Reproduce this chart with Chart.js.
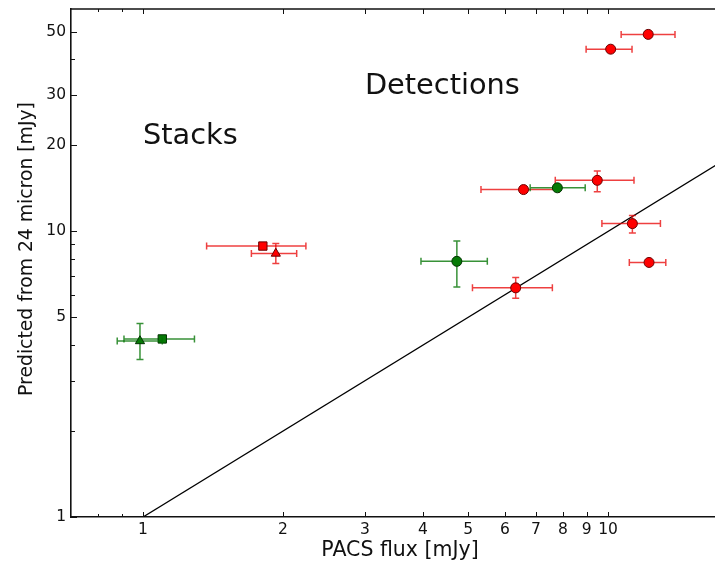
<!DOCTYPE html>
<html>
<head>
<meta charset="utf-8">
<script src="https://cdn.jsdelivr.net/npm/chart.js@4.4.0/dist/chart.umd.min.js"></script>
<style>
  html, body { margin: 0; padding: 0; overflow: hidden; background: #ffffff; }
  canvas { display: block; }
</style>
</head>
<body>
<canvas id="chart" width="737" height="562"></canvas>
<script>
// ---- Detections: red sources (PACS flux vs. flux predicted from 24 micron, mJy)
const redDetFlux    = [12.2, 10.13, 9.48, 6.58, 11.28, 12.25, 6.33];
const redDetFluxLo  = [10.67, 8.97, 7.70, 5.33, 9.70, 11.11, 5.11];
const redDetFluxHi  = [13.93, 11.26, 11.37, 7.85, 12.96, 13.31, 7.59];
const redDetPred    = [48.9, 43.4, 15.08, 14.0, 10.64, 7.78, 6.34];
const redDetPredLo  = [null, null, 13.76, null, 9.86, null, 5.83];
const redDetPredHi  = [null, null, 16.25, null, 11.37, null, 6.89];

// ---- Detections: green sources
const greenDetFlux   = [7.78, 4.73];
const greenDetFluxLo = [6.8, 3.96];
const greenDetFluxHi = [8.93, 5.50];
const greenDetPred   = [14.2, 7.85];
const greenDetPredLo = [null, 6.39];
const greenDetPredHi = [null, 9.25];

// ---- Stacks (square and triangle for each colour)
const redSqFlux = [1.81], redSqFluxLo = [1.37], redSqFluxHi = [2.24], redSqPred = [8.88];
const redTriFlux = [1.93], redTriFluxLo = [1.71], redTriFluxHi = [2.14];
const redTriPred = [8.36], redTriPredLo = [7.71], redTriPredHi = [9.06];
const greenSqFlux = [1.10], greenSqFluxLo = [0.91], greenSqFluxHi = [1.29], greenSqPred = [4.20];
const greenTriFlux = [0.985], greenTriFluxLo = [0.88], greenTriFluxHi = [1.10];
const greenTriPred = [4.13], greenTriPredLo = [3.56], greenTriPredHi = [4.76];

// ---- One-to-one reference line
const unityFlux = [1, 20];
const unityPred = [1, 20];

// ---- Axes
const xRange = [0.7, 18.3];
const yRange = [1, 60];
const xTickValues = [0.8, 0.9, 1, 2, 3, 4, 5, 6, 7, 8, 9, 10];
const xTickLabels = ['', '', '1', '2', '3', '4', '5', '6', '7', '8', '9', '10'];
const yTickValues = [1, 2, 3, 4, 5, 6, 7, 8, 9, 10, 20, 30, 40, 50];
const yTickLabels = ['1', '', '', '', '5', '', '', '', '', '10', '20', '30', '', '50'];

// ---- Text
const xTitle = 'PACS flux [mJy]';
const yTitle = 'Predicted from 24 micron [mJy]';
const noteTexts = ['Stacks', 'Detections'];
const noteFlux  = [1.0, 3.0];
const notePred  = [20.2, 30.2];

const FONT = '"DejaVu Sans", "Bitstream Vera Sans", sans-serif';
const RED = '#ff0000', RED_EDGE = '#6a0000', RED_ERR = 'rgba(232,0,0,0.75)';
const GREEN = '#067a06', GREEN_EDGE = '#013201', GREEN_ERR = 'rgba(0,115,0,0.78)';

const zip = (xs, ys) => xs.map((x, i) => ({ x: x, y: ys[i] }));

function scatterSet(label, xs, ys, err, style, order) {
  return Object.assign({
    type: 'scatter',
    label: label,
    data: zip(xs, ys),
    err: err,
    borderWidth: 1,
    order: order
  }, style);
}

const circleRed   = { pointStyle: 'circle',   pointRadius: 5,   backgroundColor: RED,   borderColor: RED_EDGE };
const circleGreen = { pointStyle: 'circle',   pointRadius: 5,   backgroundColor: GREEN, borderColor: GREEN_EDGE };
const squareRed   = { pointStyle: 'rect',     pointRadius: 5.9, backgroundColor: RED,   borderColor: RED_EDGE };
const squareGreen = { pointStyle: 'rect',     pointRadius: 5.9, backgroundColor: GREEN, borderColor: GREEN_EDGE };
const triRed      = { pointStyle: 'triangle', pointRadius: 5.3, backgroundColor: RED,   borderColor: RED_EDGE };
const triGreen    = { pointStyle: 'triangle', pointRadius: 5.3, backgroundColor: GREEN, borderColor: GREEN_EDGE };

const datasets = [
  {
    type: 'line', label: 'unity', data: zip(unityFlux, unityPred),
    borderColor: '#000000', borderWidth: 1.3, pointRadius: 0, fill: false, order: 20
  },
  scatterSet('red detections', redDetFlux, redDetPred,
    { color: RED_ERR, xlo: redDetFluxLo, xhi: redDetFluxHi, ylo: redDetPredLo, yhi: redDetPredHi }, circleRed, 9),
  scatterSet('green detections', greenDetFlux, greenDetPred,
    { color: GREEN_ERR, xlo: greenDetFluxLo, xhi: greenDetFluxHi, ylo: greenDetPredLo, yhi: greenDetPredHi }, circleGreen, 8),
  scatterSet('red stack (square)', redSqFlux, redSqPred,
    { color: RED_ERR, xlo: redSqFluxLo, xhi: redSqFluxHi, ylo: [null], yhi: [null] }, squareRed, 7),
  scatterSet('red stack (triangle)', redTriFlux, redTriPred,
    { color: RED_ERR, xlo: redTriFluxLo, xhi: redTriFluxHi, ylo: redTriPredLo, yhi: redTriPredHi }, triRed, 6),
  scatterSet('green stack (square)', greenSqFlux, greenSqPred,
    { color: GREEN_ERR, xlo: greenSqFluxLo, xhi: greenSqFluxHi, ylo: [null], yhi: [null] }, squareGreen, 5),
  scatterSet('green stack (triangle)', greenTriFlux, greenTriPred,
    { color: GREEN_ERR, xlo: greenTriFluxLo, xhi: greenTriFluxHi, ylo: greenTriPredLo, yhi: greenTriPredHi }, triGreen, 4)
];

// Error bars drawn just beneath each dataset's markers, with small caps.
const errorBars = {
  id: 'errorBars',
  beforeDatasetDraw(chart, args) {
    const ds = chart.data.datasets[args.index];
    if (!ds.err) return;
    const xs = chart.scales.x, ys = chart.scales.y, ctx = chart.ctx, a = chart.chartArea;
    const cap = 3.5;
    ctx.save();
    ctx.beginPath();
    ctx.rect(a.left, a.top, a.right - a.left, a.bottom - a.top);
    ctx.clip();
    ctx.strokeStyle = ds.err.color;
    ctx.lineWidth = 1.5;
    ds.data.forEach((p, i) => {
      const px = xs.getPixelForValue(p.x), py = ys.getPixelForValue(p.y);
      const xl = ds.err.xlo[i], xh = ds.err.xhi[i];
      if (xl != null && xh != null) {
        const l = xs.getPixelForValue(xl), r = xs.getPixelForValue(xh);
        ctx.beginPath();
        ctx.moveTo(l, py); ctx.lineTo(r, py);
        ctx.moveTo(l, py - cap); ctx.lineTo(l, py + cap);
        ctx.moveTo(r, py - cap); ctx.lineTo(r, py + cap);
        ctx.stroke();
      }
      const yl = ds.err.ylo[i], yh = ds.err.yhi[i];
      if (yl != null && yh != null) {
        const b = ys.getPixelForValue(yl), t = ys.getPixelForValue(yh);
        ctx.beginPath();
        ctx.moveTo(px, b); ctx.lineTo(px, t);
        ctx.moveTo(px - cap, b); ctx.lineTo(px + cap, b);
        ctx.moveTo(px - cap, t); ctx.lineTo(px + cap, t);
        ctx.stroke();
      }
    });
    ctx.restore();
  }
};

// Frame top edge, inward tick marks, axis titles and the two notes.
const frame = {
  id: 'frame',
  afterDraw(chart) {
    const ctx = chart.ctx, a = chart.chartArea, xs = chart.scales.x, ys = chart.scales.y;
    ctx.save();
    ctx.strokeStyle = '#111111';
    ctx.lineWidth = 1.6;
    ctx.beginPath();
    ctx.moveTo(a.left - 0.8, a.top); ctx.lineTo(a.right, a.top);
    ctx.stroke();

    ctx.lineWidth = 1;
    ctx.beginPath();
    xTickValues.forEach((v, i) => {
      const px = Math.round(xs.getPixelForValue(v)) + 0.5;
      const len = xTickLabels[i] ? 5 : 3;
      ctx.moveTo(px, a.bottom); ctx.lineTo(px, a.bottom - len);
      ctx.moveTo(px, a.top); ctx.lineTo(px, a.top + len);
    });
    yTickValues.forEach((v, i) => {
      const py = Math.round(ys.getPixelForValue(v)) + 0.5;
      const len = yTickLabels[i] ? 6 : 4;
      ctx.moveTo(a.left, py); ctx.lineTo(a.left + len, py);
    });
    ctx.stroke();

    ctx.fillStyle = '#111111';
    ctx.textAlign = 'left';
    ctx.textBaseline = 'alphabetic';
    ctx.font = '28.8px ' + FONT;
    noteTexts.forEach((t, i) => {
      ctx.fillText(t, xs.getPixelForValue(noteFlux[i]), ys.getPixelForValue(notePred[i]));
    });

    ctx.textAlign = 'center';
    ctx.textBaseline = 'middle';
    ctx.font = '20.5px ' + FONT;
    ctx.fillText(xTitle, 400, 551);
    ctx.translate(27, 249);
    ctx.rotate(-Math.PI / 2);
    ctx.font = '18.8px ' + FONT;
    ctx.fillText(yTitle, 0, 0);
    ctx.restore();
  }
};

new Chart(document.getElementById('chart'), {
  data: { datasets: datasets },
  plugins: [errorBars, frame],
  options: {
    responsive: false,
    animation: false,
    events: [],
    layout: { padding: { top: 9, right: 0, bottom: 0, left: 0 } },
    plugins: { legend: { display: false }, tooltip: { enabled: false }, title: { display: false } },
    scales: {
      x: {
        type: 'logarithmic',
        position: 'bottom',
        min: xRange[0], max: xRange[1],
        afterBuildTicks: (s) => { s.ticks = xTickValues.map(v => ({ value: v })); },
        afterFit: (s) => { s.height = 45; s.paddingLeft = 0; s.paddingRight = 0; },
        grid: { display: true, drawOnChartArea: false, drawTicks: false },
        border: { display: true, color: '#111111', width: 1.6 },
        ticks: {
          autoSkip: false, maxRotation: 0, minRotation: 0, padding: 4,
          color: '#111111', font: { family: FONT, size: 15.5 },
          callback: (v, i) => xTickLabels[i]
        }
      },
      y: {
        type: 'logarithmic',
        position: 'left',
        min: yRange[0], max: yRange[1],
        afterBuildTicks: (s) => { s.ticks = yTickValues.map(v => ({ value: v })); },
        afterFit: (s) => { s.width = 71; s.paddingTop = 0; s.paddingBottom = 0; },
        grid: { display: true, drawOnChartArea: false, drawTicks: false },
        border: { display: true, color: '#111111', width: 1.6 },
        ticks: {
          autoSkip: false, padding: 5,
          color: '#111111', font: { family: FONT, size: 15.5 },
          callback: (v, i) => yTickLabels[i]
        }
      }
    }
  }
});
</script>
</body>
</html>
